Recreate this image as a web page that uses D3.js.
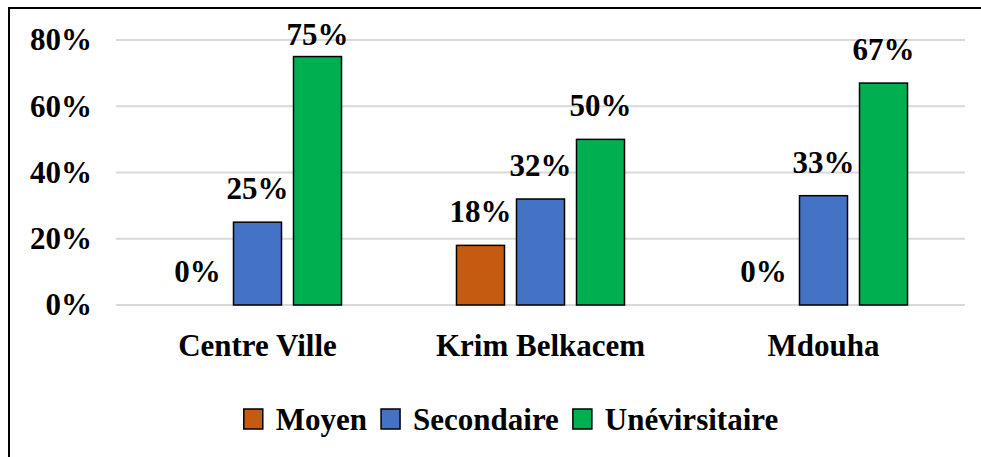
<!DOCTYPE html>
<html>
<head>
<meta charset="utf-8">
<script src="https://cdn.jsdelivr.net/npm/d3@7"></script>
<style>
  body { margin: 0; background: #fff; }
</style>
</head>
<body>
<svg id="chart" width="981" height="457"></svg>
<script>
(() => {

// data
var categories = ["Centre Ville", "Krim Belkacem", "Mdouha"];
var keys = ["Moyen", "Secondaire", "Unévirsitaire"];
var moyen = [0, 18, 0];
var secondaire = [25, 32, 33];
var universitaire = [75, 50, 67];
var yTicks = [0, 20, 40, 60, 80];

var series = [moyen, secondaire, universitaire];
var data = categories.map(function(c, i) {
  return { cat: c, values: keys.map(function(k, j) { return { key: k, value: series[j][i] }; }) };
});

var FONT = "'Liberation Serif', 'Times New Roman', serif";
var FS = 31;

var svg = d3.select("svg"),
    margin = {top: 40, right: 16, bottom: 152, left: 116},
    width = +svg.attr("width") - margin.left - margin.right,
    height = +svg.attr("height") - margin.top - margin.bottom;

// outer frame
svg.append("rect")
    .attr("x", 9).attr("y", 8)
    .attr("width", 990).attr("height", 470)
    .attr("fill", "none")
    .attr("stroke", "#000")
    .attr("stroke-width", 2);

var g = svg.append("g").attr("transform", "translate(" + margin.left + "," + margin.top + ")");

var x0 = d3.scaleBand().domain(categories).range([0, width]);

var x1 = d3.scaleBand().domain(keys)
    .range([0, x0.bandwidth()])
    .paddingInner(0.2)
    .paddingOuter(0.958);

var y = d3.scaleLinear().domain([0, 80]).range([height, 0]);

var z = d3.scaleOrdinal().domain(keys).range(["#C55A11", "#4472C4", "#00B050"]);

// gridlines
g.append("g")
  .selectAll("line")
  .data(yTicks)
  .enter().append("line")
    .attr("x1", 0).attr("x2", width)
    .attr("y1", function(d) { return y(d); })
    .attr("y2", function(d) { return y(d); })
    .attr("stroke", "#d9d9d9")
    .attr("stroke-width", 2);

// y axis labels
var yAxis = g.append("g")
    .call(d3.axisLeft(y).tickValues(yTicks).tickSize(0).tickPadding(24).tickFormat(function(d) { return d + "%"; }));
yAxis.select(".domain").remove();
yAxis.attr("font-family", FONT).attr("font-size", FS);
yAxis.selectAll("text")
    .style("font-family", FONT)
    .style("font-weight", "bold")
    .attr("fill", "#000")
    .attr("font-size", FS);

var groups = g.append("g")
  .selectAll("g")
  .data(data)
  .enter().append("g")
    .attr("transform", function(d) { return "translate(" + x0(d.cat) + ",0)"; });

groups.selectAll("rect")
  .data(function(d) { return d.values.filter(function(v) { return v.value > 0; }); })
  .enter().append("rect")
    .attr("x", function(d) { return x1(d.key); })
    .attr("y", function(d) { return y(d.value); })
    .attr("width", x1.bandwidth())
    .attr("height", function(d) { return height - y(d.value); })
    .attr("fill", function(d) { return z(d.key); })
    .attr("stroke", "#000")
    .attr("stroke-width", 1.5);

// value labels, kept inside the frame at the top
groups.selectAll("text")
  .data(function(d) { return d.values; })
  .enter().append("text")
    .attr("x", function(d) { return x1(d.key) + x1.bandwidth() / 2; })
    .attr("y", function(d) { return Math.max(y(d.value) - 23, 5); })
    .attr("text-anchor", "middle")
    .style("font-family", FONT)
    .style("font-weight", "bold")
    .attr("font-size", FS)
    .text(function(d) { return d.value + "%"; });

// category labels
g.append("g")
  .selectAll("text")
  .data(categories)
  .enter().append("text")
    .attr("x", function(d) { return x0(d) + x0.bandwidth() / 2; })
    .attr("y", height + 51)
    .attr("text-anchor", "middle")
    .style("font-family", FONT)
    .style("font-weight", "bold")
    .attr("font-size", FS)
    .text(function(d) { return d; });

// legend
var legend = svg.append("g").attr("transform", "translate(0,430)");
var items = legend.selectAll("g")
  .data(keys)
  .enter().append("g");

items.append("rect")
    .attr("y", -21)
    .attr("width", 19)
    .attr("height", 20)
    .attr("fill", z)
    .attr("stroke", "#000")
    .attr("stroke-width", 1.5);

items.append("text")
    .attr("x", 32)
    .style("font-family", FONT)
    .style("font-weight", "bold")
    .attr("font-size", FS)
    .text(function(d) { return d; });

var pos = 0;
items.each(function() {
  var w = d3.select(this).select("text").node().getComputedTextLength();
  this._x = pos;
  pos += 32 + w + 14;
});
var total = pos - 14;
var start = 511 - total / 2;
items.attr("transform", function() { return "translate(" + (start + this._x) + ",0)"; });

})();
</script>
</body>
</html>
